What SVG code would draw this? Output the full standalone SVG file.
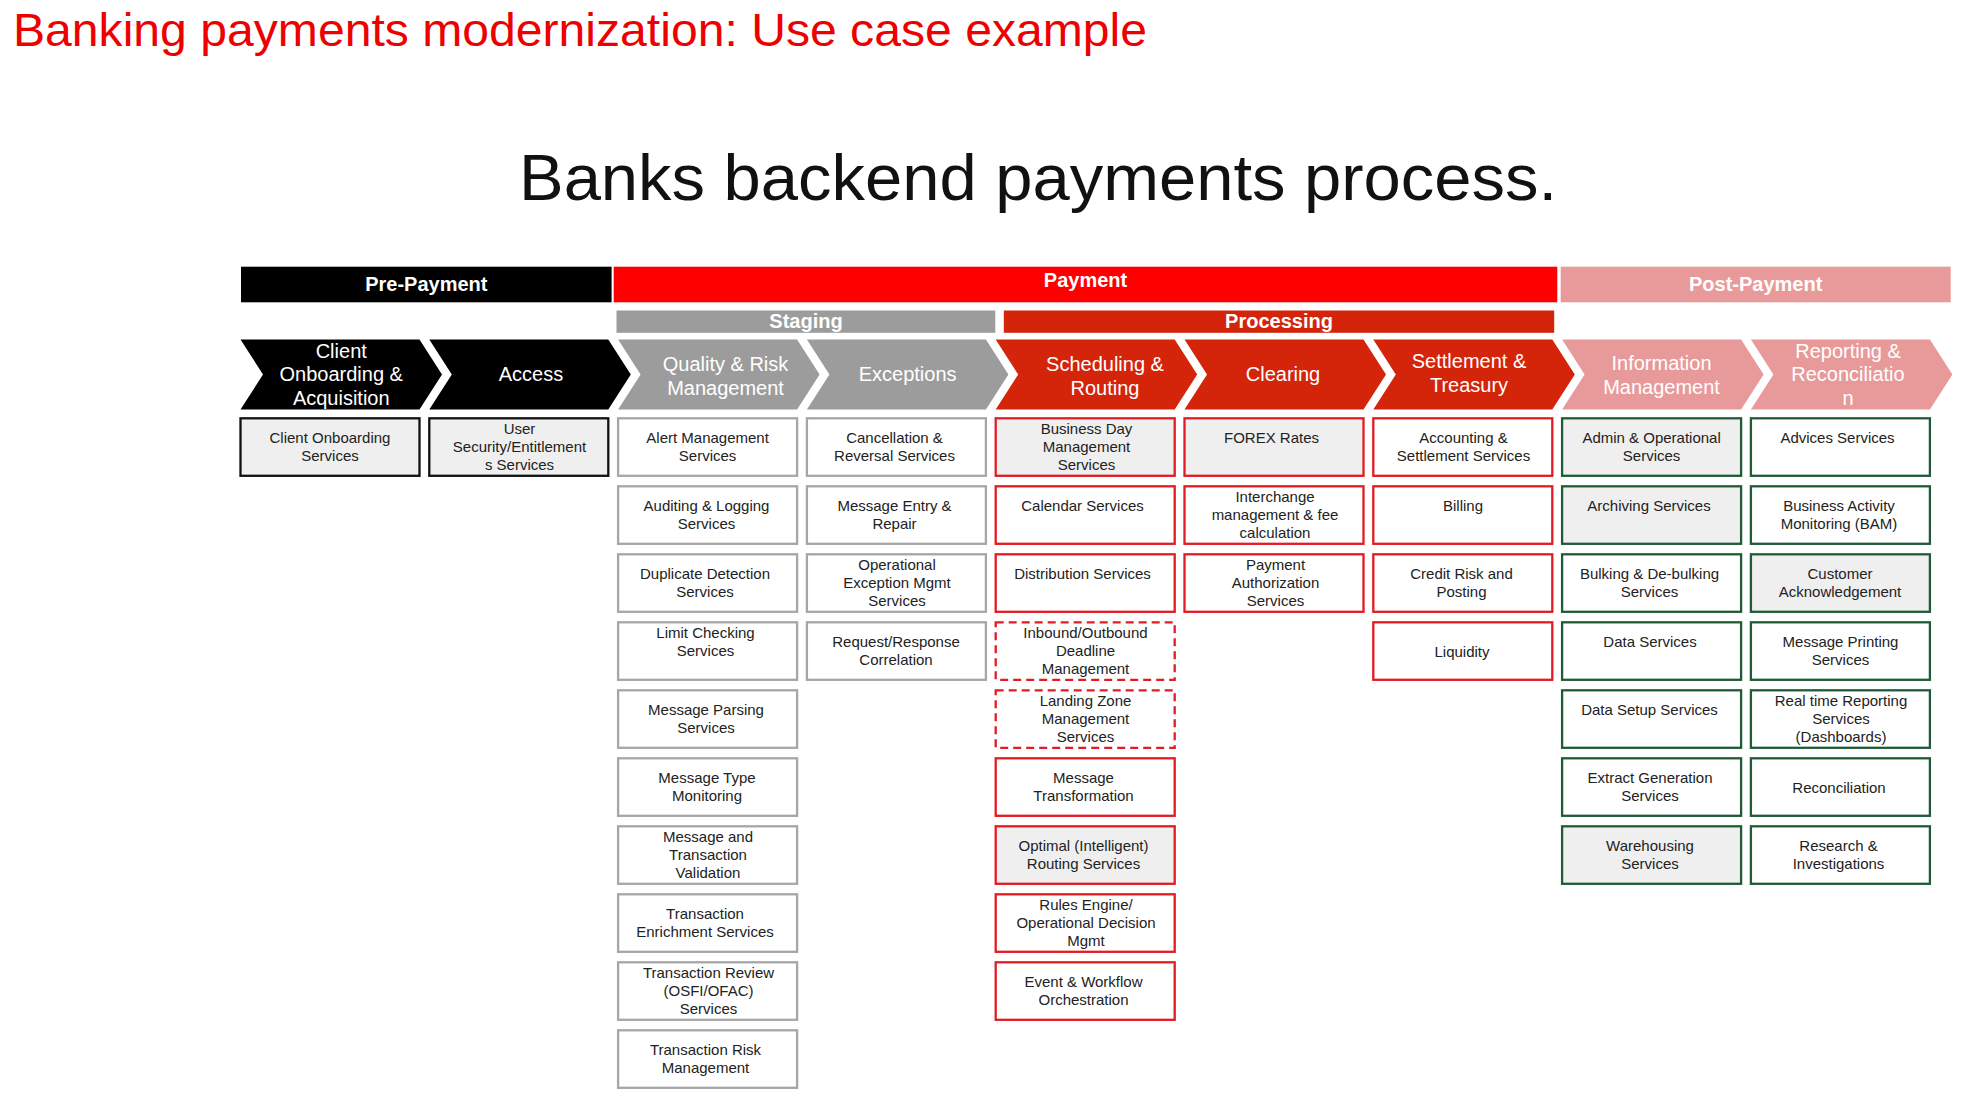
<svg xmlns="http://www.w3.org/2000/svg" width="1970" height="1105" viewBox="0 0 1970 1105">
<style>
.title{font-family:"Liberation Sans",Arial,sans-serif;font-size:46px;fill:#EE0000}
.sub{font-family:"Liberation Sans",Arial,sans-serif;font-size:64px;fill:#111}
.bt{font-family:"Liberation Sans",Arial,sans-serif;font-size:20px;font-weight:bold;fill:#fff;text-anchor:middle}
.ct{font-family:"Liberation Sans",Arial,sans-serif;font-size:20px;fill:#fff;text-anchor:middle}
.t{font-family:"Liberation Sans",Arial,sans-serif;font-size:15px;fill:#222;text-anchor:middle}
.bx{stroke-width:2.3;fill:#fff}
.g{fill:#EFEFEF}
.k{stroke:#111}
.s{stroke:#A6A6A6}
.r{stroke:#E31B23}
.rd{stroke:#E31B23;stroke-dasharray:8 5}
.gr{stroke:#1F5C36}
.cb{fill:#000}
.cg{fill:#9C9C9C}
.cr{fill:#D4240A}
.cp{fill:#E89A9A}
</style>
<rect width="1970" height="1105" fill="#fff"/>
<text class="title" x="13" y="46" textLength="1134" lengthAdjust="spacingAndGlyphs">Banking payments modernization: Use case example</text>
<text class="sub" x="519" y="200" textLength="1038" lengthAdjust="spacingAndGlyphs">Banks backend payments process.</text>

<g id="phase-bars">
<g id="pre-payment"><rect x="241" y="266.7" width="370.6" height="35.6" fill="#000"/><text class="bt" x="426.3" y="291">Pre-Payment</text></g>
<g id="payment"><rect x="613.7" y="266.7" width="943.6" height="35.6" fill="#FF0000"/><text class="bt" x="1085.5" y="287">Payment</text></g>
<g id="post-payment"><rect x="1560.7" y="266.7" width="390" height="35.6" fill="#E89A9A"/><text class="bt" x="1755.7" y="291">Post-Payment</text></g>
<g id="staging"><rect x="616.5" y="310.5" width="378.8" height="22.3" fill="#9C9C9C"/><text class="bt" x="806" y="328.3">Staging</text></g>
<g id="processing"><rect x="1003.8" y="310.5" width="550.4" height="22.3" fill="#D4240A"/><text class="bt" x="1279" y="328.3">Processing</text></g>
</g>

<g id="chevrons">
<g id="chev-client"><polygon class="cb" points="240.5,339.5 419.5,339.5 442,374.5 419.5,409.5 240.5,409.5 263,374.5"/><text class="ct"><tspan x="341.25" y="357.5">Client</tspan><tspan x="341.25" y="381.4">Onboarding &amp;</tspan><tspan x="341.25" y="405.3">Acquisition</tspan></text></g>
<g id="chev-access"><polygon class="cb" points="429.3,339.5 608.3,339.5 630.8,374.5 608.3,409.5 429.3,409.5 451.8,374.5"/><text class="ct" x="531" y="381.4">Access</text></g>
<g id="chev-quality"><polygon class="cg" points="618.1,339.5 797.1,339.5 819.6,374.5 797.1,409.5 618.1,409.5 640.6,374.5"/><text class="ct"><tspan x="725.5" y="371">Quality &amp; Risk</tspan><tspan x="725.5" y="395">Management</tspan></text></g>
<g id="chev-exceptions"><polygon class="cg" points="806.9,339.5 985.9,339.5 1008.4,374.5 985.9,409.5 806.9,409.5 829.4,374.5"/><text class="ct" x="907.65" y="381.4">Exceptions</text></g>
<g id="chev-scheduling"><polygon class="cr" points="995.7,339.5 1174.7,339.5 1197.2,374.5 1174.7,409.5 995.7,409.5 1018.2,374.5"/><text class="ct"><tspan x="1105" y="371">Scheduling &amp;</tspan><tspan x="1105" y="395">Routing</tspan></text></g>
<g id="chev-clearing"><polygon class="cr" points="1184.5,339.5 1363.5,339.5 1386,374.5 1363.5,409.5 1184.5,409.5 1207,374.5"/><text class="ct" x="1283" y="381.4">Clearing</text></g>
<g id="chev-settlement"><polygon class="cr" points="1373.3,339.5 1552.3,339.5 1574.8,374.5 1552.3,409.5 1373.3,409.5 1395.8,374.5"/><text class="ct"><tspan x="1469" y="368">Settlement &amp;</tspan><tspan x="1469" y="392">Treasury</tspan></text></g>
<g id="chev-information"><polygon class="cp" points="1562.1,339.5 1741.1,339.5 1763.6,374.5 1741.1,409.5 1562.1,409.5 1584.6,374.5"/><text class="ct"><tspan x="1661.5" y="369.5">Information</tspan><tspan x="1661.5" y="393.5">Management</tspan></text></g>
<g id="chev-reporting"><polygon class="cp" points="1750.9,339.5 1929.9,339.5 1952.4,374.5 1929.9,409.5 1750.9,409.5 1773.4,374.5"/><text class="ct"><tspan x="1848" y="357.5">Reporting &amp;</tspan><tspan x="1848" y="381.4">Reconciliatio</tspan><tspan x="1848" y="405.3">n</tspan></text></g>
</g>

<g id="connectors"></g>

<g id="boxes">
<g id="client-onboarding-services"><rect class="bx k g" x="240.5" y="418.3" width="179" height="57.5"/><text class="t"><tspan x="330" y="442.6">Client Onboarding</tspan><tspan x="330" y="460.9">Services</tspan></text></g>
<g id="user-security"><rect class="bx k g" x="429.3" y="418.3" width="179" height="57.5"/><text class="t"><tspan x="519.5" y="433.6">User</tspan><tspan x="519.5" y="451.9">Security/Entitlement</tspan><tspan x="519.5" y="470.2">s Services</tspan></text></g>
<g id="alert-mgmt"><rect class="bx s" x="618.1" y="418.3" width="179" height="57.5"/><text class="t"><tspan x="707.6" y="442.6">Alert Management</tspan><tspan x="707.6" y="460.9">Services</tspan></text></g>
<g id="auditing"><rect class="bx s" x="618.1" y="486.3" width="179" height="57.5"/><text class="t"><tspan x="706.5" y="510.6">Auditing &amp; Logging</tspan><tspan x="706.5" y="528.9">Services</tspan></text></g>
<g id="duplicate"><rect class="bx s" x="618.1" y="554.3" width="179" height="57.5"/><text class="t"><tspan x="705" y="578.6">Duplicate Detection</tspan><tspan x="705" y="596.9">Services</tspan></text></g>
<g id="limit-checking"><rect class="bx s" x="618.1" y="622.3" width="179" height="57.5"/><text class="t"><tspan x="705.5" y="637.6">Limit Checking</tspan><tspan x="705.5" y="655.9">Services</tspan></text></g>
<g id="msg-parsing"><rect class="bx s" x="618.1" y="690.3" width="179" height="57.5"/><text class="t"><tspan x="706" y="714.6">Message Parsing</tspan><tspan x="706" y="732.9">Services</tspan></text></g>
<g id="msg-type"><rect class="bx s" x="618.1" y="758.3" width="179" height="57.5"/><text class="t"><tspan x="707" y="782.6">Message Type</tspan><tspan x="707" y="800.9">Monitoring</tspan></text></g>
<g id="msg-validation"><rect class="bx s" x="618.1" y="826.3" width="179" height="57.5"/><text class="t"><tspan x="708" y="841.6">Message and</tspan><tspan x="708" y="859.9">Transaction</tspan><tspan x="708" y="878.2">Validation</tspan></text></g>
<g id="enrichment"><rect class="bx s" x="618.1" y="894.3" width="179" height="57.5"/><text class="t"><tspan x="705" y="918.6">Transaction</tspan><tspan x="705" y="936.9">Enrichment Services</tspan></text></g>
<g id="txn-review"><rect class="bx s" x="618.1" y="962.3" width="179" height="57.5"/><text class="t"><tspan x="708.5" y="977.6">Transaction Review</tspan><tspan x="708.5" y="995.9">(OSFI/OFAC)</tspan><tspan x="708.5" y="1014.2">Services</tspan></text></g>
<g id="txn-risk"><rect class="bx s" x="618.1" y="1030.3" width="179" height="57.5"/><text class="t"><tspan x="705.5" y="1054.6">Transaction Risk</tspan><tspan x="705.5" y="1072.9">Management</tspan></text></g>
<g id="cancellation"><rect class="bx s" x="806.9" y="418.3" width="179" height="57.5"/><text class="t"><tspan x="894.5" y="442.6">Cancellation &amp;</tspan><tspan x="894.5" y="460.9">Reversal Services</tspan></text></g>
<g id="msg-entry"><rect class="bx s" x="806.9" y="486.3" width="179" height="57.5"/><text class="t"><tspan x="894.5" y="510.6">Message Entry &amp;</tspan><tspan x="894.5" y="528.9">Repair</tspan></text></g>
<g id="op-exception"><rect class="bx s" x="806.9" y="554.3" width="179" height="57.5"/><text class="t"><tspan x="897" y="569.6">Operational</tspan><tspan x="897" y="587.9">Exception Mgmt</tspan><tspan x="897" y="606.2">Services</tspan></text></g>
<g id="req-resp"><rect class="bx s" x="806.9" y="622.3" width="179" height="57.5"/><text class="t"><tspan x="896" y="646.6">Request/Response</tspan><tspan x="896" y="664.9">Correlation</tspan></text></g>
<g id="business-day"><rect class="bx r g" x="995.7" y="418.3" width="179" height="57.5"/><text class="t"><tspan x="1086.5" y="433.6">Business Day</tspan><tspan x="1086.5" y="451.9">Management</tspan><tspan x="1086.5" y="470.2">Services</tspan></text></g>
<g id="calendar"><rect class="bx r" x="995.7" y="486.3" width="179" height="57.5"/><text class="t" x="1082.5" y="510.6">Calendar Services</text></g>
<g id="distribution"><rect class="bx r" x="995.7" y="554.3" width="179" height="57.5"/><text class="t" x="1082.5" y="578.6">Distribution Services</text></g>
<g id="inbound-outbound"><rect class="bx rd" x="995.7" y="622.3" width="179" height="57.5"/><text class="t"><tspan x="1085.5" y="637.6">Inbound/Outbound</tspan><tspan x="1085.5" y="655.9">Deadline</tspan><tspan x="1085.5" y="674.2">Management</tspan></text></g>
<g id="landing-zone"><rect class="bx rd" x="995.7" y="690.3" width="179" height="57.5"/><text class="t"><tspan x="1085.5" y="705.6">Landing Zone</tspan><tspan x="1085.5" y="723.9">Management</tspan><tspan x="1085.5" y="742.2">Services</tspan></text></g>
<g id="msg-transformation"><rect class="bx r" x="995.7" y="758.3" width="179" height="57.5"/><text class="t"><tspan x="1083.5" y="782.6">Message</tspan><tspan x="1083.5" y="800.9">Transformation</tspan></text></g>
<g id="optimal-routing"><rect class="bx r g" x="995.7" y="826.3" width="179" height="57.5"/><text class="t"><tspan x="1083.5" y="850.6">Optimal (Intelligent)</tspan><tspan x="1083.5" y="868.9">Routing Services</tspan></text></g>
<g id="rules-engine"><rect class="bx r" x="995.7" y="894.3" width="179" height="57.5"/><text class="t"><tspan x="1086" y="909.6">Rules Engine/</tspan><tspan x="1086" y="927.9">Operational Decision</tspan><tspan x="1086" y="946.2">Mgmt</tspan></text></g>
<g id="event-workflow"><rect class="bx r" x="995.7" y="962.3" width="179" height="57.5"/><text class="t"><tspan x="1083.5" y="986.6">Event &amp; Workflow</tspan><tspan x="1083.5" y="1004.9">Orchestration</tspan></text></g>
<g id="forex"><rect class="bx r g" x="1184.5" y="418.3" width="179" height="57.5"/><text class="t" x="1271.5" y="442.6">FOREX Rates</text></g>
<g id="interchange"><rect class="bx r" x="1184.5" y="486.3" width="179" height="57.5"/><text class="t"><tspan x="1275" y="501.6">Interchange</tspan><tspan x="1275" y="519.9">management &amp; fee</tspan><tspan x="1275" y="538.2">calculation</tspan></text></g>
<g id="payment-auth"><rect class="bx r" x="1184.5" y="554.3" width="179" height="57.5"/><text class="t"><tspan x="1275.5" y="569.6">Payment</tspan><tspan x="1275.5" y="587.9">Authorization</tspan><tspan x="1275.5" y="606.2">Services</tspan></text></g>
<g id="accounting"><rect class="bx r" x="1373.3" y="418.3" width="179" height="57.5"/><text class="t"><tspan x="1463.5" y="442.6">Accounting &amp;</tspan><tspan x="1463.5" y="460.9">Settlement Services</tspan></text></g>
<g id="billing"><rect class="bx r" x="1373.3" y="486.3" width="179" height="57.5"/><text class="t" x="1463" y="510.6">Billing</text></g>
<g id="credit-risk"><rect class="bx r" x="1373.3" y="554.3" width="179" height="57.5"/><text class="t"><tspan x="1461.5" y="578.6">Credit Risk and</tspan><tspan x="1461.5" y="596.9">Posting</tspan></text></g>
<g id="liquidity"><rect class="bx r" x="1373.3" y="622.3" width="179" height="57.5"/><text class="t" x="1462" y="656.6">Liquidity</text></g>
<g id="admin-ops"><rect class="bx gr g" x="1562.1" y="418.3" width="179" height="57.5"/><text class="t"><tspan x="1651.6" y="442.6">Admin &amp; Operational</tspan><tspan x="1651.6" y="460.9">Services</tspan></text></g>
<g id="archiving"><rect class="bx gr g" x="1562.1" y="486.3" width="179" height="57.5"/><text class="t" x="1649" y="510.6">Archiving Services</text></g>
<g id="bulking"><rect class="bx gr" x="1562.1" y="554.3" width="179" height="57.5"/><text class="t"><tspan x="1649.5" y="578.6">Bulking &amp; De-bulking</tspan><tspan x="1649.5" y="596.9">Services</tspan></text></g>
<g id="data-services"><rect class="bx gr" x="1562.1" y="622.3" width="179" height="57.5"/><text class="t" x="1650" y="646.6">Data Services</text></g>
<g id="data-setup"><rect class="bx gr" x="1562.1" y="690.3" width="179" height="57.5"/><text class="t" x="1649.5" y="714.6">Data Setup Services</text></g>
<g id="extract-gen"><rect class="bx gr" x="1562.1" y="758.3" width="179" height="57.5"/><text class="t"><tspan x="1650" y="782.6">Extract Generation</tspan><tspan x="1650" y="800.9">Services</tspan></text></g>
<g id="warehousing"><rect class="bx gr g" x="1562.1" y="826.3" width="179" height="57.5"/><text class="t"><tspan x="1650" y="850.6">Warehousing</tspan><tspan x="1650" y="868.9">Services</tspan></text></g>
<g id="advices"><rect class="bx gr" x="1750.9" y="418.3" width="179" height="57.5"/><text class="t" x="1837.5" y="442.6">Advices Services</text></g>
<g id="bam"><rect class="bx gr" x="1750.9" y="486.3" width="179" height="57.5"/><text class="t"><tspan x="1839" y="510.6">Business Activity</tspan><tspan x="1839" y="528.9">Monitoring (BAM)</tspan></text></g>
<g id="customer-ack"><rect class="bx gr g" x="1750.9" y="554.3" width="179" height="57.5"/><text class="t"><tspan x="1840" y="578.6">Customer</tspan><tspan x="1840" y="596.9">Acknowledgement</tspan></text></g>
<g id="msg-printing"><rect class="bx gr" x="1750.9" y="622.3" width="179" height="57.5"/><text class="t"><tspan x="1840.5" y="646.6">Message Printing</tspan><tspan x="1840.5" y="664.9">Services</tspan></text></g>
<g id="realtime-reporting"><rect class="bx gr" x="1750.9" y="690.3" width="179" height="57.5"/><text class="t"><tspan x="1841" y="705.6">Real time Reporting</tspan><tspan x="1841" y="723.9">Services</tspan><tspan x="1841" y="742.2">(Dashboards)</tspan></text></g>
<g id="reconciliation"><rect class="bx gr" x="1750.9" y="758.3" width="179" height="57.5"/><text class="t" x="1839" y="792.6">Reconciliation</text></g>
<g id="research"><rect class="bx gr" x="1750.9" y="826.3" width="179" height="57.5"/><text class="t"><tspan x="1838.5" y="850.6">Research &amp;</tspan><tspan x="1838.5" y="868.9">Investigations</tspan></text></g>
</g>
</svg>
